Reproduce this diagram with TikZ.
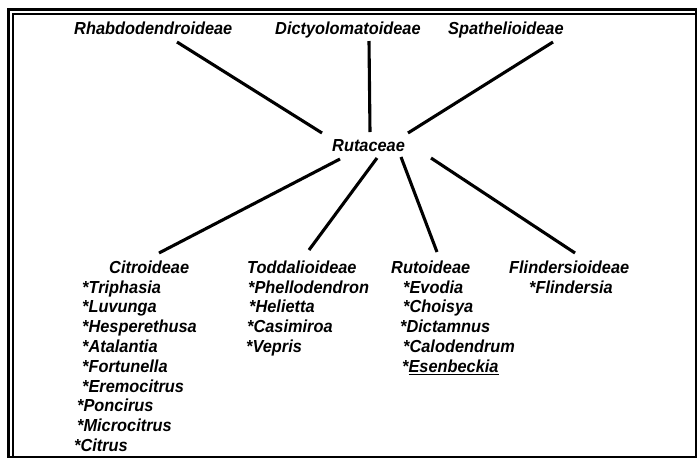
\documentclass[tikz,border=0pt]{standalone}
\usepackage{fontspec}
\setmainfont{Liberation Sans}
\newfontfamily\labfont{Liberation Sans}[FakeStretch=0.94]
\begin{document}
\begin{tikzpicture}[x=1pt,y=-1pt,
  lbl/.style={anchor=base west,inner sep=0pt,font=\labfont\fontsize{17.4}{19.8}\selectfont\bfseries\itshape},
  link/.style={line width=3.1pt,black},
  frame/.style={line width=2.6pt,black}]
\useasboundingbox (0,0) rectangle (698,459);
% frame
\draw[frame] (8.3,9.5) rectangle (696,457);
\draw[line width=1.8pt] (12.8,457) -- (12.8,14.3) -- (696,14.3);
% top subfamilies
\node[lbl] (rhab) at (74,34) {Rhabdodendroideae};
\node[lbl] (dict) at (275,34) {Dictyolomatoideae};
\node[lbl] (spat) at (448,34) {Spathelioideae};
% family
\node[lbl] (rut) at (332,151) {Rutaceae};
% lower subfamilies
\node[lbl] (citr) at (109,273) {Citroideae};
\node[lbl] (todd) at (247,273) {Toddalioideae};
\node[lbl] (ruto) at (391,273) {Rutoideae};
\node[lbl] (flin) at (509,273) {Flindersioideae};
% Citroideae genera
\node[lbl] (c1) at (82,293) {*Triphasia};
\node[lbl] (c2) at (82,312.8) {*Luvunga};
\node[lbl] (c3) at (82,332.6) {*Hesperethusa};
\node[lbl] (c4) at (82,352.4) {*Atalantia};
\node[lbl] (c5) at (82,372.2) {*Fortunella};
\node[lbl] (c6) at (82,392) {*Eremocitrus};
\node[lbl] (c7) at (77,411.8) {*Poncirus};
\node[lbl] (c8) at (77,431.6) {*Microcitrus};
\node[lbl] (c9) at (74,451.4) {*Citrus};
% Toddalioideae genera
\node[lbl] (t1) at (248,293) {*Phellodendron};
\node[lbl] (t2) at (249,312.8) {*Helietta};
\node[lbl] (t3) at (247,332.6) {*Casimiroa};
\node[lbl] (t4) at (246,352.4) {*Vepris};
% Rutoideae genera
\node[lbl] (r1) at (403,293) {*Evodia};
\node[lbl] (r2) at (403,312.8) {*Choisya};
\node[lbl] (r3) at (400,332.6) {*Dictamnus};
\node[lbl] (r4) at (403,352.4) {*Calodendrum};
\node[lbl] (r5) at (402,372.2) {*\underline{Esenbeckia}};
% Flindersioideae genera
\node[lbl] (f1) at (529,293) {*Flindersia};
% connector end points
\coordinate (rhab-e) at (177,42);
\coordinate (dict-e) at (369,41);
\coordinate (spat-e) at (553,42);
\coordinate (rut-a) at (322,133);
\coordinate (rut-b) at (370,132);
\coordinate (rut-c) at (408,133);
\coordinate (rut-d) at (340,159);
\coordinate (rut-e) at (377,158);
\coordinate (rut-f) at (401,157);
\coordinate (rut-g) at (431,158);
\coordinate (citr-e) at (159,253);
\coordinate (todd-e) at (309,250);
\coordinate (ruto-e) at (437,252);
\coordinate (flin-e) at (575,253);
\draw[link] (rhab-e) -- (rut-a);
\draw[link] (dict-e) -- (rut-b);
\draw[link] (spat-e) -- (rut-c);
\draw[link] (rut-d) -- (citr-e);
\draw[link] (rut-e) -- (todd-e);
\draw[link] (rut-f) -- (ruto-e);
\draw[link] (rut-g) -- (flin-e);
\end{tikzpicture}
\end{document}
